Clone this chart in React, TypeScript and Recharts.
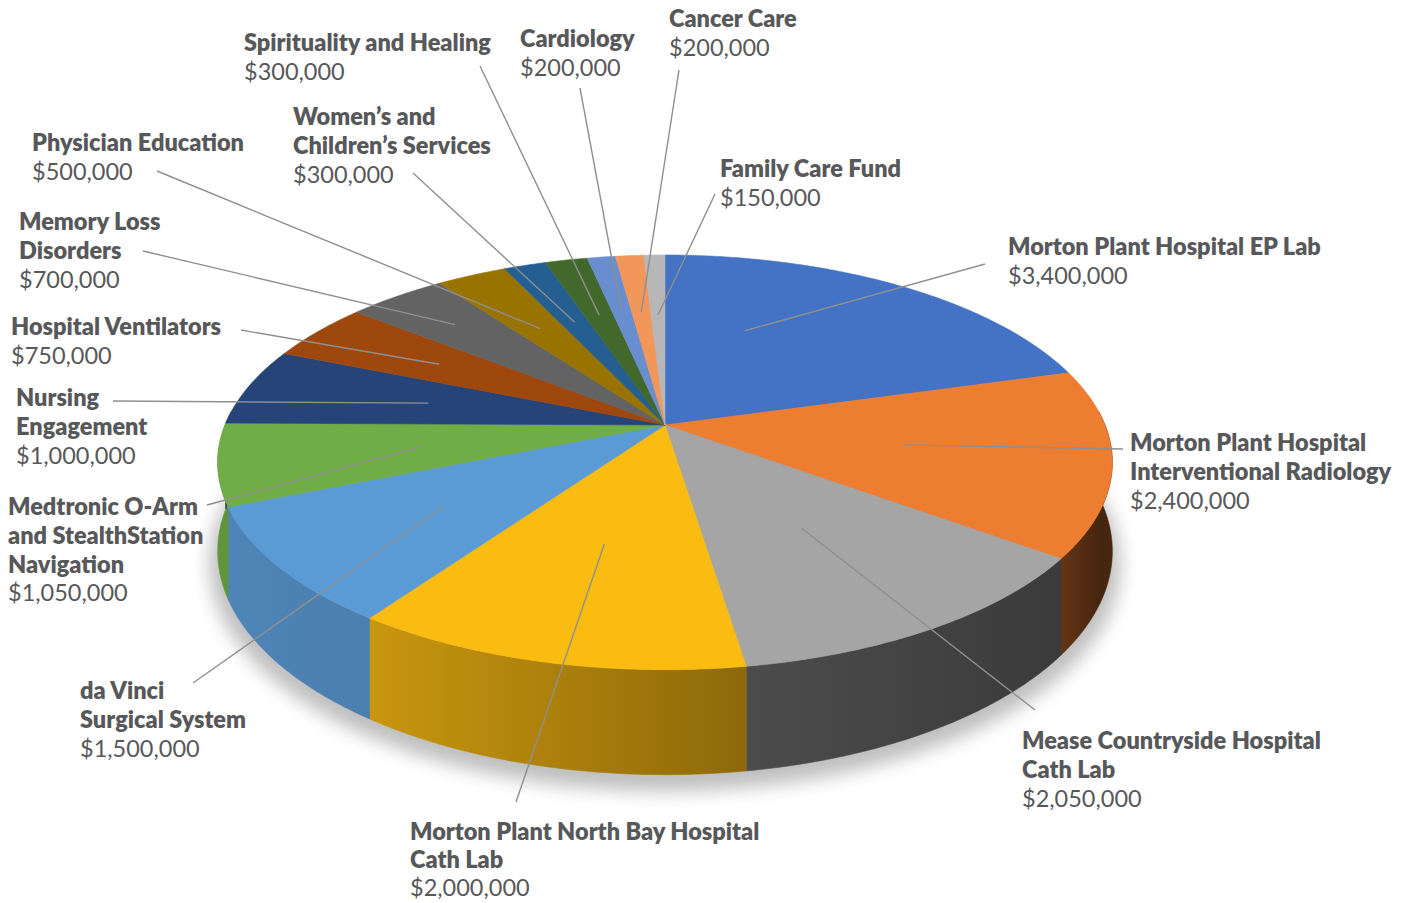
import React from 'react';
import { PieChart, Pie } from 'recharts';

// ---------- data ----------
const categories = [
  'Morton Plant Hospital EP Lab',
  'Morton Plant Hospital\nInterventional Radiology',
  'Mease Countryside Hospital\nCath Lab',
  'Morton Plant North Bay Hospital\nCath Lab',
  'da Vinci\nSurgical System',
  'Medtronic O-Arm\nand StealthStation\nNavigation',
  'Nursing\nEngagement',
  'Hospital Ventilators',
  'Memory Loss\nDisorders',
  'Physician Education',
  'Women’s and\nChildren’s Services',
  'Spirituality and Healing',
  'Cardiology',
  'Cancer Care',
  'Family Care Fund',
];
const amounts = [
  3400000, 2400000, 2050000, 2000000, 1500000, 1050000, 1000000, 750000,
  700000, 500000, 300000, 300000, 200000, 200000, 150000,
];

// ---------- style ----------
const topColors = [
  '#4472c4', '#ed7d31', '#a5a5a5', '#fbbc12', '#5b9bd5', '#70ad47', '#264478',
  '#9e480e', '#636363', '#997300', '#255e91', '#43682b', '#698ed0', '#f1975a', '#b7b7b7',
];
// wall brightness multiplier [at slice start, at slice end]
const wallTones: [number, number][] = [
  [0.6, 0.6], [0.3, 0.42], [0.36, 0.46], [0.56, 0.8], [0.82, 0.86], [0.84, 0.86], [0.85, 0.85],
  [0.85, 0.85], [0.85, 0.85], [0.85, 0.85], [0.85, 0.85], [0.85, 0.85], [0.85, 0.85], [0.85, 0.85], [0.85, 0.85],
];
// label layout: text x, first baseline y, line height, leader start x/y, leader inner end (angle offset, radius fraction)
const labelLayout = [
  { tx: 1008, ty: 255, lh: 28.8, lx: 985, ly: 264, dt: -16, rf: 0.55 },
  { tx: 1130, ty: 451, lh: 28.8, lx: 1123, ly: 449, dt: 0, rf: 0.54 },
  { tx: 1022, ty: 749, lh: 28.8, lx: 1035, ly: 710, dt: 0, rf: 0.55 },
  { tx: 410, ty: 840, lh: 28, lx: 516, ly: 802, dt: 0, rf: 0.55 },
  { tx: 80, ty: 699, lh: 28.8, lx: 193, ly: 683, dt: 0, rf: 0.6 },
  { tx: 8, ty: 515, lh: 28.8, lx: 207, ly: 505, dt: 0, rf: 0.55 },
  { tx: 16, ty: 406, lh: 28.8, lx: 113, ly: 401, dt: 0, rf: 0.56 },
  { tx: 11, ty: 335, lh: 28.8, lx: 241, ly: 330, dt: 0, rf: 0.63 },
  { tx: 19, ty: 230, lh: 28.8, lx: 143, ly: 251, dt: 0, rf: 0.76 },
  { tx: 32, ty: 151, lh: 28.8, lx: 157, ly: 171, dt: 0, rf: 0.61 },
  { tx: 293, ty: 125, lh: 28.8, lx: 413, ly: 173, dt: 0, rf: 0.61 },
  { tx: 244, ty: 51, lh: 28.8, lx: 480, ly: 66, dt: 0, rf: 0.63 },
  { tx: 520, ty: 47, lh: 28.8, lx: 580, ly: 88, dt: 0, rf: 0.65 },
  { tx: 669, ty: 27, lh: 28.8, lx: 679, ly: 70, dt: 0, rf: 0.63 },
  { tx: 720, ty: 177, lh: 28.8, lx: 715, ly: 194, dt: 0, rf: 0.61 },
];

const CX = 665;
const CY = 425;
const RADIUS = 440;
const PERSP = 5.55; // camera distance / radius
const TILT = 0.456; // vertical squash of the disc
const DEPTH = 86; // thickness of the pie
const TEXT_COLOR = '#57585a';
const FONT = 'Lato, "Open Sans", sans-serif';

const data = categories.map((name, i) => ({ name, value: amounts[i] }));
const fmt = (v: number) => '$' + v.toLocaleString('en-US');

function proj(cx: number, cy: number, R: number, thetaDeg: number, rf: number, h = 0): [number, number] {
  const t = (thetaDeg * Math.PI) / 180;
  const X = R * rf * Math.sin(t);
  const Z = -R * rf * Math.cos(t);
  const s = (PERSP * R) / (PERSP * R - Z);
  return [cx + X * s, cy + TILT * Z * s + h * s];
}

function shade(hex: string, f: number) {
  const n = parseInt(hex.slice(1), 16);
  const r = Math.round(((n >> 16) & 255) * f);
  const g = Math.round(((n >> 8) & 255) * f);
  const b = Math.round((n & 255) * f);
  return `rgb(${r},${g},${b})`;
}

const pts = (arr: [number, number][]) => arr.map((p) => `${p[0].toFixed(2)},${p[1].toFixed(2)}`).join(' L ');

function renderWall(props: any) {
  const { cx, cy, outerRadius, startAngle, endAngle, index } = props;
  const t0 = 90 - startAngle;
  const t1 = 90 - endAngle;
  const a = Math.max(t0, 86);
  const b = Math.min(t1, 274);
  if (b <= a) return <g key={`w${index}`} />;
  const n = Math.max(2, Math.ceil((b - a) / 0.5));
  const top: [number, number][] = [];
  const bot: [number, number][] = [];
  for (let i = 0; i <= n; i++) {
    const t = a + ((b - a) * i) / n;
    top.push(proj(cx, cy, outerRadius, t, 1, 0));
    bot.push(proj(cx, cy, outerRadius, t, 1, DEPTH));
  }
  const d = `M ${pts(top)} L ${pts(bot.reverse())} Z`;
  const col = topColors[index % topColors.length];
  const tone = wallTones[index];
  const gid = `wallgrad-${index}`;
  return (
    <g key={`w${index}`}>
      <defs>
        <linearGradient id={gid} gradientUnits="userSpaceOnUse" x1={top[0][0]} y1={0} x2={top[n][0]} y2={0}>
          <stop offset="0" stopColor={shade(col, tone[0])} />
          <stop offset="1" stopColor={shade(col, tone[1])} />
        </linearGradient>
      </defs>
      <path d={d} fill={`url(#${gid})`} stroke={`url(#${gid})`} strokeWidth={0.6} />
    </g>
  );
}

function renderTop(props: any) {
  const { cx, cy, outerRadius, startAngle, endAngle, index } = props;
  const t0 = 90 - startAngle;
  const t1 = 90 - endAngle;
  const n = Math.max(2, Math.ceil((t1 - t0) / 0.5));
  const rim: [number, number][] = [];
  for (let i = 0; i <= n; i++) rim.push(proj(cx, cy, outerRadius, t0 + ((t1 - t0) * i) / n, 1, 0));
  const col = topColors[index % topColors.length];
  const d = `M ${cx},${cy} L ${pts(rim)} Z`;
  return <path key={`t${index}`} d={d} fill={col} stroke={col} strokeWidth={0.6} strokeLinejoin="round" />;
}

function renderLabel(props: any) {
  const { cx, cy, outerRadius, midAngle, index } = props;
  const lay = labelLayout[index];
  const [ex, ey] = proj(cx, cy, outerRadius, 90 - midAngle + lay.dt, lay.rf, 0);
  const lines = categories[index].split('\n');
  return (
    <g key={`l${index}`}>
      <line x1={lay.lx} y1={lay.ly} x2={ex} y2={ey} stroke="#8f8f8f" strokeWidth={1.4} />
      <text x={lay.tx} y={lay.ty} fill={TEXT_COLOR} fontFamily={FONT} fontSize={23.5} textAnchor="start">
        {lines.map((ln, i) => (
          <tspan key={i} x={lay.tx} y={lay.ty + i * lay.lh} fontWeight={800}>
            {ln}
          </tspan>
        ))}
        <tspan x={lay.tx} y={lay.ty + lines.length * lay.lh} fontWeight={400}>
          {fmt(amounts[index])}
        </tspan>
      </text>
    </g>
  );
}

function Shadow() {
  const rim: [number, number][] = [];
  for (let t = 0; t <= 360; t += 2) rim.push(proj(CX, CY + 12, RADIUS + 8, t, 1, DEPTH));
  return (
    <svg width={1407} height={903} style={{ position: 'absolute', left: 0, top: 0 }}>
      <defs>
        <filter id="pieShadow" x="-20%" y="-20%" width="140%" height="140%">
          <feGaussianBlur stdDeviation="9" />
        </filter>
      </defs>
      <path d={`M ${pts(rim)} Z`} fill="#8a8a8a" opacity={0.55} filter="url(#pieShadow)" />
    </svg>
  );
}

export default function App() {
  const common = {
    data,
    dataKey: 'value',
    nameKey: 'name',
    cx: CX,
    cy: CY,
    outerRadius: RADIUS,
    startAngle: 90,
    endAngle: -270,
    isAnimationActive: false,
    fill: 'none',
    stroke: 'none',
    labelLine: false,
  };
  return (
    <div style={{ position: 'absolute', left: 0, top: 0, width: 1407, height: 903, background: '#fff' }}>
      <Shadow />
      <div style={{ position: 'absolute', left: 0, top: 0 }}>
        <PieChart width={1407} height={903} margin={{ top: 0, right: 0, bottom: 0, left: 0 }}>
          <Pie {...common} label={renderWall} />
          <Pie {...common} label={renderTop} />
          <Pie {...common} label={renderLabel} />
        </PieChart>
      </div>
    </div>
  );
}
